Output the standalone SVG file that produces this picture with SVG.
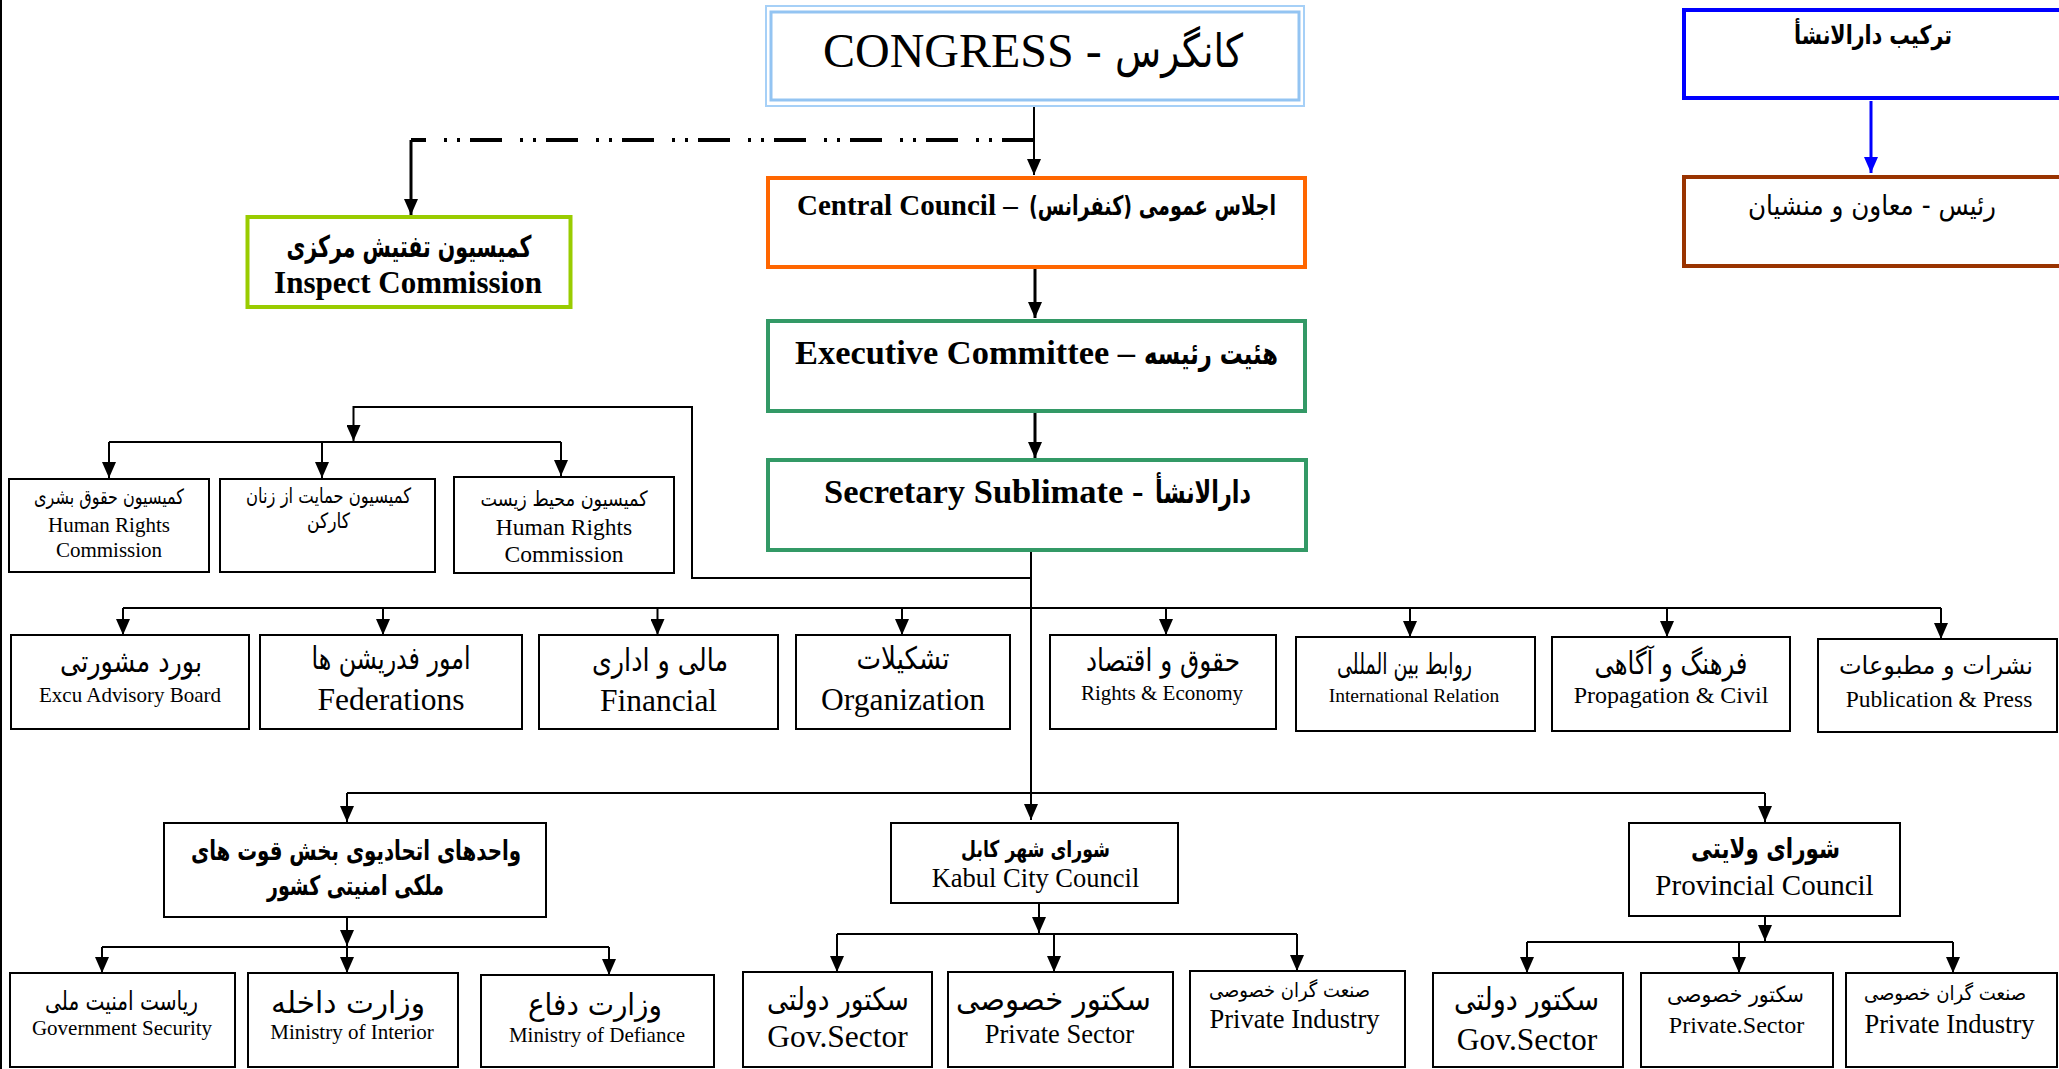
<svg xmlns="http://www.w3.org/2000/svg" width="2059" height="1069" viewBox="0 0 2059 1069">
<style>
.bx{fill:#fff;stroke:#000;stroke-width:2}
.en{font-family:"Liberation Serif","Times New Roman",serif;fill:#000}
.fa{font-family:"DejaVu Sans","Noto Sans",sans-serif;fill:#000;direction:rtl}
.b{font-weight:bold}
.c{text-anchor:middle}
.ln{fill:none;stroke:#000;stroke-width:2}
.ar{fill:none;stroke:#000;stroke-width:2;marker-end:url(#ah)}
.ar3{fill:none;stroke:#000;stroke-width:3;marker-end:url(#ah)}
</style>
<defs>
<marker id="ah" markerUnits="userSpaceOnUse" markerWidth="16" markerHeight="14" refX="16" refY="7" orient="auto"><path d="M0,0 L16,7 L0,14 Z" fill="#000"/></marker>
<marker id="ahb" markerUnits="userSpaceOnUse" markerWidth="16" markerHeight="14" refX="16" refY="7" orient="auto"><path d="M0,0 L16,7 L0,14 Z" fill="#0000ff"/></marker>
</defs>
<rect width="2059" height="1069" fill="#fff"/>
<line x1="1" y1="0" x2="1" y2="1069" stroke="#000" stroke-width="2"/>

<g id="connectors">
<path d="M1034,140 H411" fill="none" stroke="#000" stroke-width="4" stroke-dasharray="32 10 3 10 3 18"/>
<path class="ar3" d="M411,140 V215"/>
<path class="ar" d="M1034,107 V175"/>
<path class="ar3" d="M1035,269 V318"/>
<path class="ar3" d="M1035,413 V458"/>
<path d="M1871,101 V173" fill="none" stroke="#0000ff" stroke-width="3" marker-end="url(#ahb)"/>
<path class="ar" d="M1031,552 V820"/>
<path class="ar" d="M1031,578 H692 V407 H353.5 V441"/>
<path class="ln" d="M109,442 H561"/>
<path class="ar" d="M109,442 V478"/>
<path class="ar" d="M322,442 V478"/>
<path class="ar" d="M561,442 V476"/>
<path class="ln" d="M123,608 H1941"/>
<path class="ar" d="M123,608 V635"/>
<path class="ar" d="M383,608 V635"/>
<path class="ar" d="M657.5,608 V635"/>
<path class="ar" d="M902,608 V635"/>
<path class="ar" d="M1166,608 V635"/>
<path class="ar" d="M1410,608 V637"/>
<path class="ar" d="M1667,608 V637"/>
<path class="ar" d="M1941,608 V639"/>
<path class="ln" d="M347,793 H1765"/>
<path class="ar" d="M347,793 V822"/>
<path class="ar" d="M1765,793 V822"/>
<path class="ar" d="M347,918 V946"/>
<path class="ln" d="M102,947 H609"/>
<path class="ar" d="M102,947 V973"/>
<path class="ar" d="M347,947 V973"/>
<path class="ar" d="M609,947 V975"/>
<path class="ar" d="M1039,904 V933"/>
<path class="ln" d="M837,934 H1297"/>
<path class="ar" d="M837,934 V972"/>
<path class="ar" d="M1054,934 V972"/>
<path class="ar" d="M1297,934 V971"/>
<path class="ar" d="M1765,917 V941"/>
<path class="ln" d="M1527,942 H1953"/>
<path class="ar" d="M1527,942 V973"/>
<path class="ar" d="M1739,942 V973"/>
<path class="ar" d="M1953,942 V973"/>
</g>

<g id="congress">
<rect x="766" y="6" width="538" height="100" fill="#fff" stroke="#a6d0f7" stroke-width="2"/>
<rect x="771" y="12" width="528" height="88" fill="none" stroke="#93c4f2" stroke-width="3"/>
<text class="en" x="823" y="67" font-size="48">CONGRESS -</text>
<text class="fa c" x="1179" y="67" font-size="46" textLength="128" lengthAdjust="spacingAndGlyphs">کانگرس</text>
</g>

<g id="inspect">
<rect x="247.5" y="217" width="323" height="90" fill="#fff" stroke="#99cc00" stroke-width="4"/>
<text class="fa b c" x="409" y="257" font-size="30" textLength="245" lengthAdjust="spacingAndGlyphs">کمیسیون تفتیش مرکزی</text>
<text class="en b c" x="408" y="293" font-size="31">Inspect Commission</text>
</g>

<g id="central">
<rect x="768" y="178" width="537" height="89" fill="#fff" stroke="#ff6600" stroke-width="4"/>
<text class="en b" x="797" y="215" font-size="29">Central Council –</text>
<text class="fa b c" x="1152.5" y="215" font-size="27" textLength="247" lengthAdjust="spacingAndGlyphs">اجلاس عمومی (کنفرانس)</text>
</g>

<g id="executive">
<rect x="768" y="321" width="537" height="90" fill="#fff" stroke="#339966" stroke-width="4"/>
<text class="en b" x="795" y="364" font-size="34.4">Executive Committee –</text>
<text class="fa b c" x="1211" y="364" font-size="31" textLength="134" lengthAdjust="spacingAndGlyphs">هئیت رئیسه</text>
</g>

<g id="secretary">
<rect x="768" y="460" width="538" height="90" fill="#fff" stroke="#339966" stroke-width="4"/>
<text class="en b" x="824" y="503" font-size="34.5">Secretary Sublimate -</text>
<text class="fa b c" x="1203" y="503" font-size="31" textLength="96" lengthAdjust="spacingAndGlyphs">دارالانشأ</text>
</g>

<g id="structure">
<rect x="1684" y="10" width="400" height="88" fill="#fff" stroke="#0000ff" stroke-width="4"/>
<text class="fa b c" x="1873" y="44" font-size="26" textLength="158" lengthAdjust="spacingAndGlyphs">ترکیب دارالانشأ</text>
</g>

<g id="president">
<rect x="1684" y="177" width="400" height="89" fill="#fff" stroke="#993300" stroke-width="4"/>
<text class="fa c" x="1872" y="215" font-size="28" textLength="248" lengthAdjust="spacingAndGlyphs">رئیس - معاون و منشیان</text>
</g>

<g id="comm-human-rights">
<rect class="bx" x="9" y="479" width="200" height="93"/>
<text class="fa c" x="109" y="504" font-size="21" textLength="150" lengthAdjust="spacingAndGlyphs">کمیسیون حقوق بشری</text>
<text class="en c" x="109" y="532" font-size="21">Human Rights</text>
<text class="en c" x="109" y="557" font-size="21">Commission</text>
</g>

<g id="comm-women">
<rect class="bx" x="220" y="479" width="215" height="93"/>
<text class="fa c" x="328.5" y="503" font-size="21" textLength="165" lengthAdjust="spacingAndGlyphs">کمیسیون حمایت از زنان</text>
<text class="fa c" x="328.5" y="528" font-size="21" textLength="43" lengthAdjust="spacingAndGlyphs">کارکن</text>
</g>

<g id="comm-environment">
<rect class="bx" x="454" y="477" width="220" height="96"/>
<text class="fa c" x="564" y="506" font-size="21" textLength="167" lengthAdjust="spacingAndGlyphs">کمیسیون محیط زیست</text>
<text class="en c" x="564" y="535" font-size="23.5">Human Rights</text>
<text class="en c" x="564" y="562" font-size="23.5">Commission</text>
</g>

<g id="advisory">
<rect class="bx" x="11" y="635" width="238" height="94"/>
<text class="fa c" x="131" y="672" font-size="31" textLength="142" lengthAdjust="spacingAndGlyphs">بورد مشورتی</text>
<text class="en c" x="130" y="702" font-size="21">Excu Advisory Board</text>
</g>

<g id="federations">
<rect class="bx" x="260" y="635" width="262" height="94"/>
<text class="fa c" x="391" y="669" font-size="31" textLength="159" lengthAdjust="spacingAndGlyphs">امور فدریشن ها</text>
<text class="en c" x="391" y="710" font-size="31.5">Federations</text>
</g>

<g id="financial">
<rect class="bx" x="539" y="635" width="239" height="94"/>
<text class="fa c" x="660" y="671" font-size="31" textLength="136" lengthAdjust="spacingAndGlyphs">مالی و اداری</text>
<text class="en c" x="658.5" y="711" font-size="31.5">Financial</text>
</g>

<g id="organization">
<rect class="bx" x="796" y="635" width="214" height="94"/>
<text class="fa c" x="903" y="669" font-size="31" textLength="93" lengthAdjust="spacingAndGlyphs">تشکیلات</text>
<text class="en c" x="903" y="710" font-size="31.5">Organization</text>
</g>

<g id="rights-economy">
<rect class="bx" x="1050" y="635" width="226" height="94"/>
<text class="fa c" x="1163" y="671" font-size="31" textLength="154" lengthAdjust="spacingAndGlyphs">حقوق و اقتصاد</text>
<text class="en c" x="1162" y="700" font-size="21">Rights &amp; Economy</text>
</g>

<g id="international">
<rect class="bx" x="1296" y="637" width="239" height="94"/>
<text class="fa c" x="1404.5" y="674" font-size="29" textLength="135" lengthAdjust="spacingAndGlyphs">روابط بین المللی</text>
<text class="en c" x="1414" y="702" font-size="19.5">International Relation</text>
</g>

<g id="propagation">
<rect class="bx" x="1552" y="637" width="238" height="94"/>
<text class="fa c" x="1671" y="674" font-size="31" textLength="153" lengthAdjust="spacingAndGlyphs">فرهنگ و آگاهی</text>
<text class="en c" x="1671" y="703" font-size="24">Propagation &amp; Civil</text>
</g>

<g id="publication">
<rect class="bx" x="1818" y="639" width="239" height="93"/>
<text class="fa c" x="1936" y="674" font-size="25" textLength="194" lengthAdjust="spacingAndGlyphs">نشرات و مطبوعات</text>
<text class="en c" x="1939" y="707" font-size="23.5">Publication &amp; Press</text>
</g>

<g id="security-units">
<rect class="bx" x="164" y="823" width="382" height="94"/>
<text class="fa b c" x="356" y="860" font-size="27" textLength="330" lengthAdjust="spacingAndGlyphs">واحدهای اتحادیوی بخش قوت های</text>
<text class="fa b c" x="355.5" y="895" font-size="27" textLength="177" lengthAdjust="spacingAndGlyphs">ملکی امنیتی کشور</text>
</g>

<g id="kabul">
<rect class="bx" x="891" y="823" width="287" height="80"/>
<text class="fa b c" x="1035.5" y="857" font-size="23" textLength="149" lengthAdjust="spacingAndGlyphs">شورای شهر کابل</text>
<text class="en c" x="1035.5" y="887" font-size="26.5">Kabul City Council</text>
</g>

<g id="provincial">
<rect class="bx" x="1629" y="823" width="271" height="93"/>
<text class="fa b c" x="1765.5" y="858" font-size="28" textLength="149" lengthAdjust="spacingAndGlyphs">شورای ولایتی</text>
<text class="en c" x="1764.5" y="895" font-size="29">Provincial Council</text>
</g>

<g id="gov-security">
<rect class="bx" x="10" y="973" width="225" height="94"/>
<text class="fa c" x="121.5" y="1010" font-size="26" textLength="153" lengthAdjust="spacingAndGlyphs">ریاست امنیت ملی</text>
<text class="en c" x="122" y="1035" font-size="21">Government Security</text>
</g>

<g id="interior">
<rect class="bx" x="248" y="973" width="210" height="94"/>
<text class="fa c" x="348" y="1013" font-size="30" textLength="154" lengthAdjust="spacingAndGlyphs">وزارت داخله</text>
<text class="en c" x="352" y="1039" font-size="21">Ministry of Interior</text>
</g>

<g id="defence">
<rect class="bx" x="481" y="975" width="233" height="92"/>
<text class="fa c" x="595" y="1015" font-size="30" textLength="134" lengthAdjust="spacingAndGlyphs">وزارت دفاع</text>
<text class="en c" x="597" y="1042" font-size="21">Ministry of Defiance</text>
</g>

<g id="kabul-gov">
<rect class="bx" x="743" y="972" width="189" height="95"/>
<text class="fa c" x="838" y="1010" font-size="31" textLength="142" lengthAdjust="spacingAndGlyphs">سکتور دولتی</text>
<text class="en c" x="837.5" y="1047" font-size="31.5">Gov.Sector</text>
</g>

<g id="kabul-private">
<rect class="bx" x="948" y="972" width="225" height="95"/>
<text class="fa c" x="1053.5" y="1010" font-size="31" textLength="195" lengthAdjust="spacingAndGlyphs">سکتور خصوصی</text>
<text class="en c" x="1059.5" y="1043" font-size="26.5">Private Sector</text>
</g>

<g id="kabul-industry">
<rect class="bx" x="1190" y="971" width="215" height="96"/>
<text class="fa c" x="1289.5" y="997" font-size="20" textLength="161" lengthAdjust="spacingAndGlyphs">صنعت گران خصوصی</text>
<text class="en c" x="1294.5" y="1028" font-size="26.5">Private Industry</text>
</g>

<g id="prov-gov">
<rect class="bx" x="1433" y="973" width="190" height="94"/>
<text class="fa c" x="1526.5" y="1010" font-size="31" textLength="145" lengthAdjust="spacingAndGlyphs">سکتور دولتی</text>
<text class="en c" x="1527" y="1050" font-size="31.5">Gov.Sector</text>
</g>

<g id="prov-private">
<rect class="bx" x="1641" y="973" width="192" height="94"/>
<text class="fa c" x="1735.5" y="1002" font-size="22" textLength="137" lengthAdjust="spacingAndGlyphs">سکتور خصوصی</text>
<text class="en c" x="1736.5" y="1033" font-size="24">Private.Sector</text>
</g>

<g id="prov-industry">
<rect class="bx" x="1846" y="973" width="211" height="94"/>
<text class="fa c" x="1945" y="1000" font-size="20" textLength="162" lengthAdjust="spacingAndGlyphs">صنعت گران خصوصی</text>
<text class="en c" x="1949.5" y="1033" font-size="26.5">Private Industry</text>
</g>
</svg>
